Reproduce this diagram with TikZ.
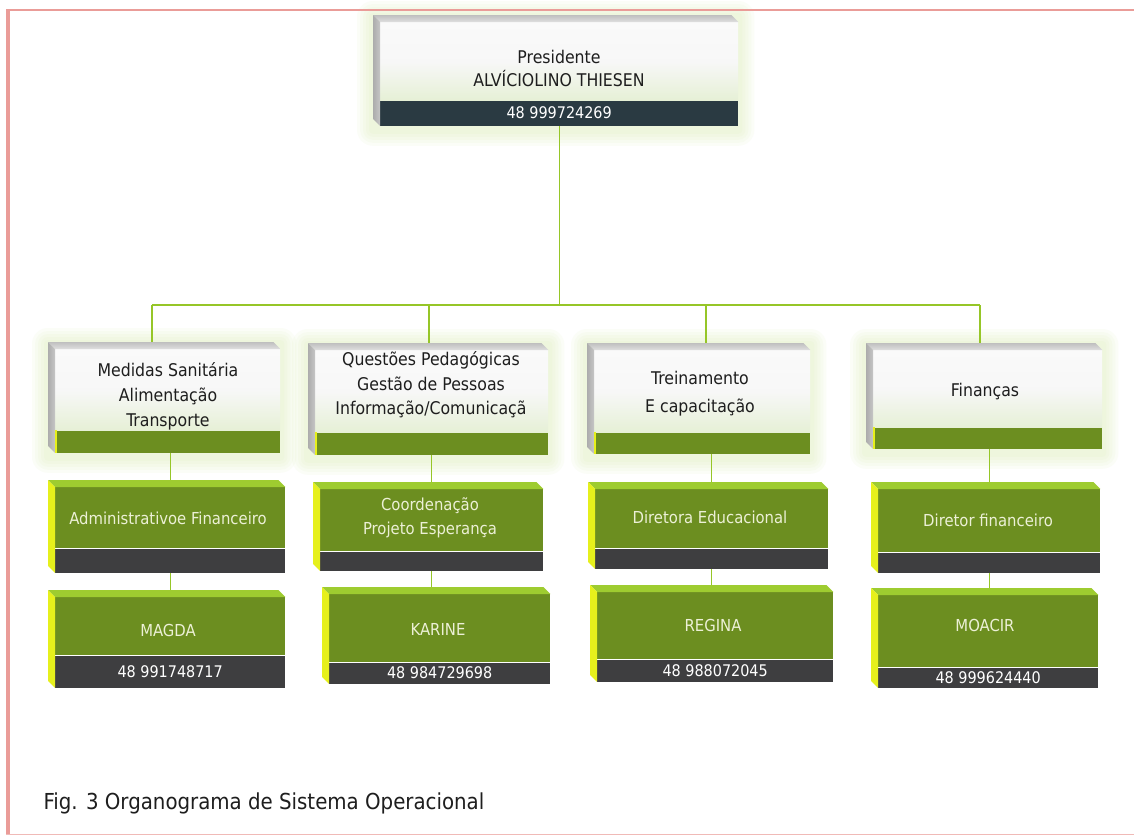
\documentclass[tikz,border=0pt]{standalone}
\usepackage{fontspec}
\setmainfont{DejaVu Sans Condensed}
\usetikzlibrary{positioning,calc,backgrounds}
\definecolor{boxgreen}{RGB}{108,142,32}
\definecolor{topgreen}{RGB}{158,204,48}
\definecolor{sideyellow}{RGB}{230,240,28}
\definecolor{bardark}{RGB}{62,62,64}
\definecolor{presdark}{RGB}{42,58,66}
\definecolor{linegreen}{RGB}{150,198,40}
\definecolor{pagepink}{RGB}{234,156,152}
\definecolor{lighttext}{RGB}{236,240,214}
\definecolor{darktext}{RGB}{30,30,30}
\definecolor{facetint}{RGB}{230,240,214}
\definecolor{glowgreen}{RGB}{214,236,170}
\begin{document}
\begin{tikzpicture}[x=1pt,y=-1pt]
  \tikzset{ wface/.style={anchor=north west,inner sep=0pt,top color=gray!4,bottom color=facetint,middle color=gray!6},
    gface/.style={anchor=north west,inner sep=0pt,fill=boxgreen},
    dbar/.style={inner sep=0pt,fill=bardark,text=white,font=\fontsize{16}{18}\selectfont},
    gbar/.style={inner sep=0pt,fill=boxgreen},
    hdr/.style={align=center,text=darktext,font=\fontsize{17.5}{25}\selectfont},
    gtxt/.style={align=center,text=lighttext,font=\fontsize{16.5}{24}\selectfont},
    wtop/.style={top color=gray!50,bottom color=gray!25},
    wside/.style={left color=gray!65,right color=gray!45},
    gtop/.style={fill=topgreen},
    gside/.style={fill=sideyellow},
    conn/.style={linegreen,line width=1.2pt},
  }
  \useasboundingbox (0,0) rectangle (1134,835);

  % president
  \node[wface,minimum width=358pt,minimum height=78pt] (pres) at (380,22) {};
  \node[hdr,font=\fontsize{17.5}{23}\selectfont] (pres-txt) at (559,68) {Presidente\\ALVÍCIOLINO THIESEN};
  \node[dbar,fill=presdark,minimum width=358pt,minimum height=25pt,below=0pt of pres] (pres-bar) {48 999724269};

  % second row
  \node[wface,minimum width=225pt,minimum height=81pt] (san) at (55,349) {};
  \node[hdr] (san-txt) at (168,396) {Medidas Sanitária\\Alimentação\\Transporte};
  \node[gbar,minimum width=225pt,minimum height=22pt,below=0pt of san] (san-bar) {};

  \node[wface,minimum width=233pt,minimum height=82pt] (ped) at (315,350) {};
  \node[hdr,font=\fontsize{17.5}{24.5}\selectfont] (ped-txt) at (431,385) {Questões Pedagógicas\\Gestão de Pessoas\\Informação/Comunicaçã};
  \node[gbar,minimum width=233pt,minimum height=22pt,below=0pt of ped] (ped-bar) {};

  \node[wface,minimum width=216pt,minimum height=82pt] (tre) at (594,350) {};
  \node[hdr,font=\fontsize{17.5}{28}\selectfont] (tre-txt) at (700,394) {Treinamento\\E capacitação};
  \node[gbar,minimum width=216pt,minimum height=21pt,below=0pt of tre] (tre-bar) {};

  \node[wface,minimum width=229pt,minimum height=77pt] (fin) at (873,350) {};
  \node[hdr] (fin-txt) at (985,392) {Finanças};
  \node[gbar,minimum width=229pt,minimum height=21pt,below=0pt of fin] (fin-bar) {};

  % third row
  \node[gface,minimum width=230pt,minimum height=61pt] (adm) at (55,487) {};
  \node[gtxt] (adm-txt) at (168,518) {Administrativoe Financeiro};
  \node[dbar,minimum width=230pt,minimum height=24pt,below=0pt of adm] (adm-bar) {};

  \node[gface,minimum width=223pt,minimum height=62pt] (coo) at (320,489) {};
  \node[gtxt] (coo-txt) at (430,518) {Coordenação\\Projeto Esperança};
  \node[dbar,minimum width=223pt,minimum height=19pt,below=0pt of coo] (coo-bar) {};

  \node[gface,minimum width=233pt,minimum height=59pt] (dir) at (595,489) {};
  \node[gtxt] (dir-txt) at (710,517) {Diretora Educacional};
  \node[dbar,minimum width=233pt,minimum height=20pt,below=0pt of dir] (dir-bar) {};

  \node[gface,minimum width=222pt,minimum height=63pt] (dfi) at (878,489) {};
  \node[gtxt] (dfi-txt) at (988,520) {Diretor financeiro};
  \node[dbar,minimum width=222pt,minimum height=20pt,below=0pt of dfi] (dfi-bar) {};

  % fourth row
  \node[gface,minimum width=230pt,minimum height=58pt] (mag) at (55,597) {};
  \node[gtxt] (mag-txt) at (168,630) {MAGDA};
  \node[dbar,minimum width=230pt,minimum height=32pt,below=0pt of mag] (mag-bar) {48 991748717};

  \node[gface,minimum width=221pt,minimum height=68pt] (kar) at (329,594) {};
  \node[gtxt] (kar-txt) at (438,629) {KARINE};
  \node[dbar,minimum width=221pt,minimum height=21pt,below=0pt of kar] (kar-bar) {48 984729698};

  \node[gface,minimum width=236pt,minimum height=67pt] (reg) at (597,592) {};
  \node[gtxt] (reg-txt) at (713,625) {REGINA};
  \node[dbar,minimum width=236pt,minimum height=22pt,below=0pt of reg] (reg-bar) {48 988072045};

  \node[gface,minimum width=220pt,minimum height=72pt] (moa) at (878,595) {};
  \node[gtxt] (moa-txt) at (985,625) {MOACIR};
  \node[dbar,minimum width=220pt,minimum height=20pt,below=0pt of moa] (moa-bar) {48 999624440};

  % bevels
  \foreach \f/\t/\s in {pres/wtop/wside, san/wtop/wside, ped/wtop/wside, tre/wtop/wside, fin/wtop/wside,
      adm/gtop/gside, coo/gtop/gside, dir/gtop/gside, dfi/gtop/gside,
      mag/gtop/gside, kar/gtop/gside, reg/gtop/gside, moa/gtop/gside}{
    \path[\t] (\f.north west) -- ++(-7,-7) -- ($(\f.north east)+(-7,-7)$) -- (\f.north east) -- cycle;
    \path[\s] (\f.north west) -- ++(-7,-7) -- ($(\f-bar.south west)+(-7,-7)$) -- (\f-bar.south west) -- cycle;
  }
  \foreach \f in {san,ped,tre,fin}
    \draw[sideyellow,line width=2pt] ([xshift=1pt]\f-bar.north west) -- ([xshift=1pt]\f-bar.south west);

  \node[anchor=west,text=darktext,font=\fontsize{22}{26}\selectfont] (caption) at (40,803) {Fig. 3 Organograma de Sistema Operacional};

  \begin{pgfonlayer}{background}
    \fill[white] (0,0) rectangle (1134,835);
    \foreach \f in {pres,san,ped,tre,fin}
      \foreach \r in {16,13,10,7,4}
        \fill[glowgreen,opacity=0.09,rounded corners=\r pt] ($(\f.north west)+(-\r-7,-\r-5)$) rectangle ($(\f-bar.south east)+(\r,\r+4)$);
    \coordinate (bus-l) at (152,305);
    \coordinate (bus-2) at (429,305);
    \coordinate (bus-3) at (706,305);
    \coordinate (bus-r) at (980,305);
    \draw[conn] (pres-bar.south) -- (pres-bar.south |- bus-l);
    \draw[conn] (bus-l) -- (bus-r);
    \draw[conn] (bus-l) -- (bus-l |- san.north);
    \draw[conn] (bus-2) -- (bus-2 |- ped.north);
    \draw[conn] (bus-3) -- (bus-3 |- tre.north);
    \draw[conn] (bus-r) -- (bus-r |- fin.north);
    \draw[conn] (san-bar.south -| adm.north) -- (adm.north);
    \draw[conn] (ped-bar.south -| coo.north) -- (coo.north);
    \draw[conn] (tre-bar.south -| dir.north) -- (dir.north);
    \draw[conn] (fin-bar.south -| dfi.north) -- (dfi.north);
    \draw[conn] (adm-bar.south) -- (adm-bar.south |- mag.north);
    \draw[conn] (coo-bar.south) -- (coo-bar.south |- kar.north);
    \draw[conn] (dir-bar.south) -- (dir-bar.south |- reg.north);
    \draw[conn] (dfi-bar.south) -- (dfi-bar.south |- moa.north);
  \end{pgfonlayer}

  % page frame
  \draw[pagepink,line width=2pt] (6,10) -- (1134,10);
  \draw[pagepink,line width=4pt] (8,9) -- (8,835);
  \draw[pagepink!70,line width=1pt] (6,834.5) -- (1134,834.5);
\end{tikzpicture}
\end{document}
